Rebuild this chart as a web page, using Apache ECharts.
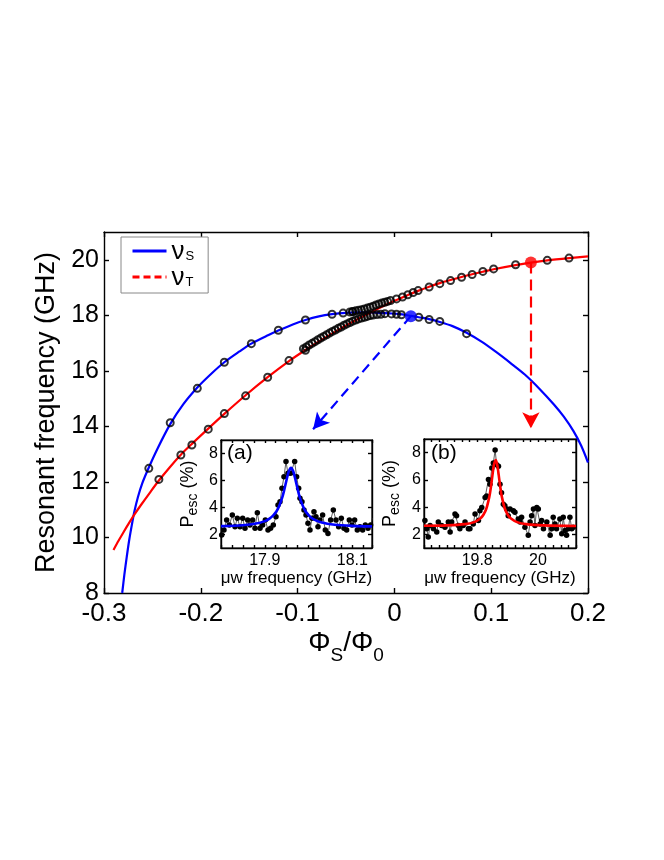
<!DOCTYPE html>
<html>
<head>
<meta charset="utf-8">
<script src="https://cdn.jsdelivr.net/npm/echarts@6/dist/echarts.min.js"></script>
<style>
html,body{margin:0;padding:0;background:#fff;}
#chart{width:664px;height:860px;}
</style>
</head>
<body>
<div id="chart"></div>
<script>
var FONT = 'Liberation Sans, Arial, Helvetica, sans-serif';

// theory curves: [flux Phi_S/Phi_0, frequency GHz]
var nuS = [[-0.2812,8.0],[-0.279,8.65],[-0.2765,9.3],[-0.274,9.9],[-0.271,10.5],[-0.2685,10.95],
  [-0.265,11.45],[-0.2605,11.95],[-0.2537,12.52],[-0.245,13.18],[-0.2316,14.08],[-0.218,14.8],
  [-0.2036,15.4],[-0.19,15.87],[-0.1757,16.31],[-0.16,16.7],[-0.1478,16.98],[-0.13,17.29],[-0.1199,17.45],
  [-0.105,17.67],[-0.0919,17.83],[-0.078,17.96],[-0.0644,18.04],[-0.05,18.09],[-0.035,18.11],[-0.02,18.1],
  [-0.005,18.07],[0.0038,18.05],[0.017,17.98],[0.0252,17.93],[0.0359,17.86],[0.0469,17.76],[0.06,17.61],
  [0.0746,17.37],[0.09,17.05],[0.105,16.68],[0.12,16.28],[0.135,15.86],[0.15,15.35],[0.165,14.78],
  [0.175,14.35],[0.185,13.83],[0.193,13.3],[0.2,12.7]];
var nuT = [[-0.2902,9.55],[-0.285,9.88],[-0.28,10.18],[-0.275,10.47],[-0.2685,10.83],[-0.262,11.16],
  [-0.2529,11.6],[-0.2433,12.05],[-0.232,12.53],[-0.2206,12.98],[-0.2092,13.37],[-0.1923,13.92],
  [-0.1757,14.45],[-0.1537,15.12],[-0.1309,15.77],[-0.1089,16.35],[-0.0919,16.75],[-0.075,17.12],
  [-0.06,17.43],[-0.04,17.82],[-0.02,18.18],[0.0,18.52],[0.0139,18.73],[0.0245,18.88],[0.0359,19.03],
  [0.0469,19.16],[0.058,19.27],[0.0694,19.38],[0.0803,19.48],[0.0914,19.57],[0.1025,19.66],[0.1252,19.81],
  [0.141,19.9],[0.1579,19.98],[0.1804,20.06],[0.2,20.12]];

// measured resonances (open circles)
var ptsS = [[-0.2537,12.49],[-0.2316,14.13],[-0.2036,15.37],[-0.1757,16.31],[-0.1478,16.98],[-0.1199,17.46],
  [-0.0919,17.83],[-0.0644,18.04],[-0.053,18.08],[-0.0433,18.13],[-0.0098,18.06],[-0.003,18.05],
  [0.0022,18.04],[0.0073,18.02],[0.0252,17.93],[0.0359,17.85],[0.0469,17.78],[0.0746,17.34]];
var ptsT = [[-0.2433,12.09],[-0.2206,12.97],[-0.2092,13.33],[-0.1923,13.9],[-0.1757,14.46],[-0.1537,15.1],
  [-0.1309,15.77],[-0.1089,16.37],[-0.0919,16.74],[0.0022,18.59],[0.0084,18.66],[0.0139,18.74],
  [0.0194,18.82],[0.0245,18.89],[0.0359,19.02],[0.0469,19.14],[0.058,19.25],[0.0694,19.37],[0.0803,19.47],
  [0.0914,19.58],[0.1025,19.67],[0.1252,19.82],[0.1579,19.98],[0.1804,20.06]];
// dense points around the anticrossing
var ptsLow = [[-0.094,16.8],[-0.091,16.86],[-0.088,16.93],[-0.085,16.99],[-0.082,17.05],[-0.079,17.12],
  [-0.076,17.18],[-0.073,17.24],[-0.07,17.3],[-0.067,17.36],[-0.064,17.42],[-0.061,17.47],[-0.058,17.53],
  [-0.055,17.58],[-0.052,17.64],[-0.049,17.69],[-0.046,17.74],[-0.043,17.79],[-0.04,17.83],[-0.037,17.87],
  [-0.034,17.9],[-0.031,17.93],[-0.028,17.96],[-0.025,17.99],[-0.022,18.01],[-0.018,18.03],[-0.014,18.04]];
var ptsUp = [[-0.046,18.12],[-0.043,18.14],[-0.04,18.16],[-0.037,18.18],[-0.034,18.2],[-0.031,18.23],
  [-0.028,18.26],[-0.025,18.29],[-0.022,18.33],[-0.019,18.37],[-0.016,18.41],[-0.013,18.44],
  [-0.01,18.47],[-0.007,18.5],[-0.004,18.53]];

// highlighted points and where the arrows point to
var spotS = [0.017, 17.97];
var spotT = [0.141, 19.9];
var arrowEndS = [-0.084, 13.9];
var arrowEndT = [0.141, 13.93];

// inset (a): escape probability vs microwave frequency
var escA = [[17.8015,1.96],[17.8068,2.33],[17.8129,3.07],[17.819,2.7],[17.8259,3.44],[17.832,2.58],
  [17.8373,3.2],[17.8434,2.58],[17.8495,3.2],[17.8548,2.46],[17.8609,3.07],[17.8662,2.7],[17.8723,3.07],
  [17.8777,2.46],[17.883,3.62],[17.8891,2.46],[17.8952,2.7],[17.9013,3.07],[17.9074,2.33],[17.9134,2.46],
  [17.9195,2.7],[17.9256,3.32],[17.9302,4.19],[17.9348,4.43],[17.9393,5.42],[17.9439,6.28],[17.9485,7.4],
  [17.953,6.53],[17.9591,6.53],[17.9683,7.4],[17.9728,6.28],[17.9774,5.42],[17.9805,4.68],[17.985,4.43],
  [17.9896,3.81],[17.9942,3.44],[17.9987,2.83],[18.0033,2.33],[18.0079,3.2],[18.0124,3.69],[18.017,3.32],
  [18.0216,2.58],[18.0261,3.07],[18.0322,3.44],[18.0383,2.33],[18.0444,2.08],[18.0505,3.07],[18.0566,3.81],
  [18.0627,3.07],[18.0688,2.58],[18.0749,3.2],[18.081,2.46],[18.0871,2.33],[18.0932,3.07],[18.0993,2.7],
  [18.1053,3.07],[18.1114,2.33],[18.1175,2.58],[18.1236,2.33],[18.1297,2.7],[18.1358,2.46],[18.1419,2.7],
  [18.1457,3.2]];
var fitA = [[17.8,2.62],[17.85,2.69],[17.88,2.81],[17.9,2.99],[17.91,3.16],[17.92,3.43],[17.93,3.9],
  [17.94,4.75],[17.945,5.37],[17.95,6.07],[17.955,6.69],[17.96,6.95],[17.965,6.69],[17.97,6.07],
  [17.975,5.37],[17.98,4.75],[17.99,3.9],[18.0,3.43],[18.01,3.16],[18.03,2.88],[18.06,2.72],[18.1,2.64],
  [18.145,2.6]];

// inset (b)
var escB = [[19.628,3.01],[19.634,2.41],[19.639,1.81],[19.645,2.65],[19.656,2.41],[19.667,2.17],[19.672,2.9],
  [19.683,2.65],[19.694,2.53],[19.705,2.9],[19.711,2.17],[19.716,2.9],[19.727,3.5],[19.732,3.37],
  [19.738,2.65],[19.743,2.41],[19.754,2.65],[19.76,2.9],[19.771,2.41],[19.776,2.41],[19.787,2.77],
  [19.793,3.5],[19.804,3.01],[19.809,3.74],[19.815,3.98],[19.826,4.7],[19.831,4.82],[19.837,6.03],
  [19.842,5.67],[19.848,6.87],[19.853,7.23],[19.859,8.2],[19.864,7.11],[19.87,7.0],[19.875,5.67],
  [19.88,5.06],[19.886,4.22],[19.891,4.1],[19.897,3.86],[19.902,3.37],[19.908,3.86],[19.919,3.74],
  [19.924,3.62],[19.935,3.13],[19.941,2.9],[19.946,3.26],[19.957,2.53],[19.968,1.93],[19.974,2.9],
  [19.979,3.37],[19.985,3.86],[19.99,2.65],[19.996,3.98],[20.001,3.86],[20.007,2.77],[20.012,3.01],
  [20.018,2.41],[20.029,2.9],[20.04,1.93],[20.045,2.41],[20.05,3.26],[20.056,2.77],[20.061,2.41],
  [20.072,3.13],[20.078,2.05],[20.083,3.26],[20.089,2.29],[20.094,1.93],[20.1,2.41],[20.105,3.26],
  [20.111,2.41],[20.116,2.53]];
var fitB = [[19.625,2.63],[19.7,2.66],[19.76,2.75],[19.79,2.9],[19.81,3.16],[19.82,3.42],[19.83,3.88],
  [19.84,4.77],[19.845,5.46],[19.85,6.31],[19.855,7.1],[19.861,7.45],[19.866,7.1],[19.871,6.31],
  [19.876,5.46],[19.881,4.77],[19.891,3.88],[19.901,3.42],[19.911,3.16],[19.931,2.9],[19.961,2.75],
  [20.02,2.66],[20.125,2.62]];

// tick labels
var xTicksA = [17.9, 18.1];
var xTicksB = [19.8, 20];
var pTicks = [2, 4, 6, 8];

var BLUE = '#0000ff', RED = '#ff0000';
var AX = {color: '#000', width: 1.4};

function onlyTicks(list, txt) {
  return function (v) {
    for (var i = 0; i < list.length; i++) {
      if (Math.abs(v - list[i]) < 1e-6) return txt[i];
    }
    return '';
  };
}

// one axis side; box plots get a second copy without labels
function axis(g, pos, min, max, extra) {
  var a = {
    type: 'value', gridIndex: g, position: pos, min: min, max: max,
    splitLine: {show: false},
    axisLine: {onZero: false, lineStyle: AX},
    axisTick: {inside: true, length: 4, lineStyle: AX},
    axisLabel: {show: false}
  };
  return Object.assign(a, extra || {});
}

var pName = {
  rich: {
    p: {fontSize: 18, fontFamily: FONT, color: '#000', verticalAlign: 'top'},
    s: {fontSize: 14, fontFamily: FONT, color: '#000', verticalAlign: 'top', padding: [7, 0, 0, 0]}
  }
};

var insetX = function (g, min, max, list, txt) {
  return axis(g, 'bottom', min, max, {
    interval: 0.025,
    axisTick: {inside: true, length: 3, lineStyle: AX},
    axisLabel: {show: true, color: '#000', fontSize: 16, fontFamily: FONT, margin: 5,
      formatter: onlyTicks(list, txt)},
    name: '\u03bcw frequency (GHz)', nameLocation: 'middle', nameGap: 21,
    nameTextStyle: {fontSize: 17, fontFamily: FONT, color: '#000'}
  });
};
var insetY = function (g, gap) {
  return axis(g, 'left', 1, 9, {
    axisTick: {inside: true, length: 4, lineStyle: AX, customValues: pTicks},
    axisLabel: {show: true, color: '#000', fontSize: 16, fontFamily: FONT, margin: 3, customValues: pTicks},
    name: '{p|P}{s|esc}{p| (%)}', nameLocation: 'middle', nameGap: gap, nameTextStyle: pName
  });
};

var chart = echarts.init(document.getElementById('chart'));

var option = {
  animation: false,
  backgroundColor: '#fff',
  grid: [
    {left: 104, top: 232, width: 484, height: 361},
    {left: 221, top: 440, width: 151, height: 108, show: true, backgroundColor: '#fff', borderColor: '#000', borderWidth: 1.2},
    {left: 424, top: 439, width: 152, height: 109, show: true, backgroundColor: '#fff', borderColor: '#000', borderWidth: 1.2}
  ],
  legend: {
    left: 121, top: 237, orient: 'vertical',
    padding: [2, 14, 2, 10], itemGap: 0, itemWidth: 34, itemHeight: 14,
    backgroundColor: '#fff', borderColor: '#888', borderWidth: 1,
    itemStyle: {opacity: 0},
    data: [
      {name: '\u03bdS', lineStyle: {width: 3}},
      {name: '\u03bdT', lineStyle: {width: 3, type: [7, 4]}}
    ],
    formatter: function (n) { return '{n|\u03bd}{s|' + n.charAt(1) + '}'; },
    textStyle: {
      rich: {
        n: {fontSize: 26, lineHeight: 24, fontFamily: FONT, color: '#000', verticalAlign: 'top'},
        s: {fontSize: 13, fontFamily: FONT, color: '#000', verticalAlign: 'top', padding: [11, 0, 0, 1]}
      }
    }
  },
  xAxis: [
    axis(0, 'bottom', -0.3, 0.2, {
      interval: 0.1,
      axisTick: {inside: true, length: 5, lineStyle: AX},
      axisLabel: {show: true, color: '#000', fontSize: 26, fontFamily: FONT, margin: 8},
      name: '{p|\u03a6}{s|S}{p|/\u03a6}{s|0}', nameLocation: 'middle', nameGap: 36,
      nameTextStyle: {
        rich: {
          p: {fontSize: 28, fontFamily: FONT, color: '#000', verticalAlign: 'top'},
          s: {fontSize: 19, fontFamily: FONT, color: '#000', verticalAlign: 'top', padding: [17, 0, 0, 0]}
        }
      }
    }),
    axis(0, 'top', -0.3, 0.2, {interval: 0.1, axisTick: {inside: true, length: 5, lineStyle: AX}}),
    insetX(1, 17.8, 18.145, xTicksA, ['17.9', '18.1']),
    axis(1, 'top', 17.8, 18.145, {interval: 0.025, axisTick: {inside: true, length: 3, lineStyle: AX}}),
    insetX(2, 19.625, 20.125, xTicksB, ['19.8', '20']),
    axis(2, 'top', 19.625, 20.125, {interval: 0.025, axisTick: {inside: true, length: 3, lineStyle: AX}})
  ],
  yAxis: [
    axis(0, 'left', 8, 21, {
      interval: 2,
      axisTick: {inside: true, length: 5, lineStyle: AX},
      axisLabel: {show: true, color: '#000', fontSize: 25, fontFamily: FONT, margin: 5, showMaxLabel: false},
      name: 'Resonant frequency (GHz)', nameLocation: 'middle', nameGap: 31,
      nameTextStyle: {fontSize: 27, fontFamily: FONT, color: '#000'}
    }),
    axis(0, 'right', 8, 21, {interval: 2, axisTick: {inside: true, length: 5, lineStyle: AX}}),
    insetY(1, 21),
    axis(1, 'right', 1, 9, {axisTick: {inside: true, length: 4, lineStyle: AX, customValues: pTicks}}),
    insetY(2, 22),
    axis(2, 'right', 1, 9, {axisTick: {inside: true, length: 4, lineStyle: AX, customValues: pTicks}})
  ],
  graphic: [
    {type: 'text', left: 227, top: 443, z: 100, style: {text: '(a)', fontSize: 21, fontFamily: FONT, fill: '#000'}},
    {type: 'text', left: 431, top: 443, z: 100, style: {text: '(b)', fontSize: 21, fontFamily: FONT, fill: '#000'}}
  ],
  series: [
    {
      name: '\u03bdS', type: 'line', xAxisIndex: 0, yAxisIndex: 0, data: nuS,
      symbol: 'none', smooth: 0.3, lineStyle: {color: BLUE, width: 2.2}, itemStyle: {color: BLUE},
      markLine: {
        silent: true, symbol: ['none', 'arrow'], symbolSize: [13, 16],
        label: {show: false},
        lineStyle: {color: BLUE, width: 2.2, type: [10, 6]},
        data: [[{coord: spotS}, {coord: arrowEndS}]]
      }
    },
    {
      name: '\u03bdT', type: 'line', xAxisIndex: 0, yAxisIndex: 0, data: nuT,
      symbol: 'none', smooth: 0.3, lineStyle: {color: RED, width: 2.2}, itemStyle: {color: RED},
      markLine: {
        silent: true, symbol: ['none', 'arrow'], symbolSize: [13, 16],
        label: {show: false},
        lineStyle: {color: RED, width: 2.2, type: [11, 6]},
        data: [[{coord: spotT}, {coord: arrowEndT}]]
      }
    },
    {
      type: 'scatter', xAxisIndex: 0, yAxisIndex: 0, z: 3,
      data: ptsS.concat(ptsT, ptsLow, ptsUp),
      symbolSize: 7,
      itemStyle: {color: 'rgba(0,0,0,0)', borderColor: '#000', borderWidth: 2}
    },
    {type: 'scatter', xAxisIndex: 0, yAxisIndex: 0, z: 4, data: [spotS], symbolSize: 12, itemStyle: {color: BLUE}},
    {type: 'scatter', xAxisIndex: 0, yAxisIndex: 0, z: 4, data: [spotT], symbolSize: 12, itemStyle: {color: RED}},

    {
      type: 'line', xAxisIndex: 2, yAxisIndex: 2, data: escA, z: 3,
      symbol: 'circle', symbolSize: 5.5, showAllSymbol: true,
      itemStyle: {color: '#000'}, lineStyle: {color: '#333', width: 0.8}
    },
    {
      type: 'line', xAxisIndex: 2, yAxisIndex: 2, data: fitA, z: 5,
      symbol: 'none', smooth: 0.3, lineStyle: {color: BLUE, width: 2.6}
    },
    {
      type: 'line', xAxisIndex: 4, yAxisIndex: 4, data: escB, z: 3,
      symbol: 'circle', symbolSize: 5.5, showAllSymbol: true,
      itemStyle: {color: '#000'}, lineStyle: {color: '#333', width: 0.8}
    },
    {
      type: 'line', xAxisIndex: 4, yAxisIndex: 4, data: fitB, z: 5,
      symbol: 'none', smooth: 0.3, lineStyle: {color: RED, width: 2.6}
    }
  ]
};

chart.setOption(option);
</script>
</body>
</html>
